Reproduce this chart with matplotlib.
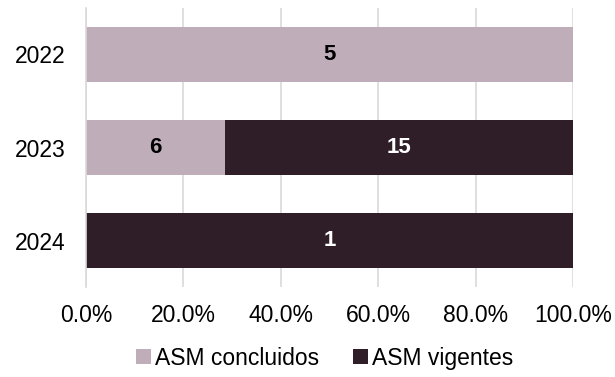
import numpy as np
import matplotlib.pyplot as plt

plt.rcParams['font.family'] = ['Liberation Sans', 'DejaVu Sans']

years = ['2022', '2023', '2024']
concluidos = [5, 6, 0]
vigentes = [0, 15, 1]

c_light = '#BFAEB9'
c_dark = '#2F1E28'

conc = np.array(concluidos, dtype=float)
vig = np.array(vigentes, dtype=float)
total = conc + vig
p_conc = conc / total
p_vig = vig / total

fig = plt.figure(figsize=(6.15, 3.77), dpi=100)
ax = fig.add_axes([0.1398, 0.2387, 0.7919, 0.7401])

y = np.arange(len(years))
h = 0.595
ax.barh(y, p_conc, height=h, color=c_light, label='ASM concluidos', zorder=2)
ax.barh(y, p_vig, left=p_conc, height=h, color=c_dark, label='ASM vigentes', zorder=2)

# value labels in the middle of each segment
for i in range(len(years)):
    if conc[i] > 0:
        ax.text(p_conc[i] / 2, y[i], str(concluidos[i]), ha='center', va='center',
                fontsize=16, fontweight='bold', color='black', zorder=3)
    if vig[i] > 0:
        ax.text(p_conc[i] + p_vig[i] / 2, y[i], str(vigentes[i]), ha='center', va='center',
                fontsize=16, fontweight='bold', color='white', zorder=3)

ax.set_xlim(0, 1)
ax.set_ylim(2.5, -0.5)
ax.set_yticks(y)
ax.set_yticklabels(years)
ax.set_xticks(np.linspace(0, 1, 6))
ax.set_xticklabels(['{:.1f}%'.format(v * 100) for v in np.linspace(0, 1, 6)])
ax.tick_params(axis='both', length=0, labelsize=16.5, colors='black')
ax.tick_params(axis='y', pad=15)
ax.tick_params(axis='x', pad=12)

ax.grid(axis='x', color='#D9D9D9', linewidth=1.2, zorder=0)
for s in ['top', 'right', 'bottom']:
    ax.spines[s].set_visible(False)
ax.spines['left'].set_color('#D9D9D9')
ax.spines['left'].set_linewidth(1.2)

ax.legend(loc='center', bbox_to_anchor=(0.49, -0.255), ncol=2, frameon=False,
          fontsize=16.5, handlelength=0.65, handleheight=0.65, handletextpad=0.15,
          columnspacing=1.5)

fig.savefig('out.png', dpi=100)
